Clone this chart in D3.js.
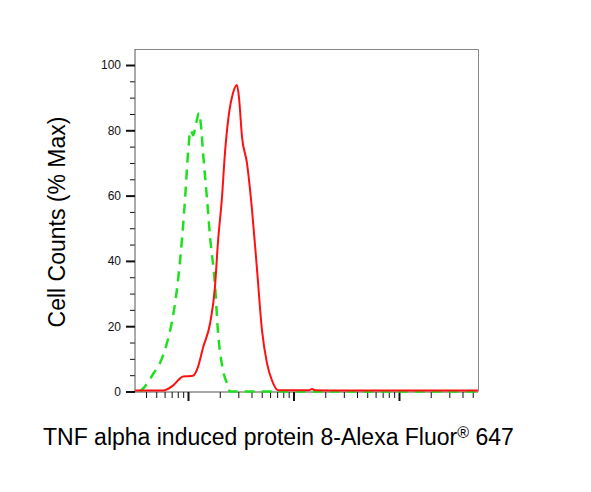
<!DOCTYPE html>
<html>
<head>
<meta charset="utf-8">
<script src="https://cdn.jsdelivr.net/npm/d3@7"></script>
<style>
  body { margin: 0; background: #fff; }
  svg { display: block; font-family: Arial, "Liberation Sans", sans-serif; }
</style>
</head>
<body>
<div class="container"></div>
<script>
// isotype control (green, dashed)
const greenX = [3.5, 3.9, 4.7, 5.4, 6.3, 7.0, 7.9, 8.8, 9.4, 10.0, 10.6, 11.2, 11.9, 12.7, 13.4, 13.9, 15.1, 16.2, 18.0, 19.2, 21.5, 23.4, 25.0, 40, 100, 300, 1000, 3000, 5600]
const greenY = [0, 1.5, 5.5, 8.6, 14.7, 20.9, 31.9, 47.2, 59.5, 73, 80, 78.5, 82, 85.3, 80, 73, 59.5, 47.2, 33, 18.7, 6.4, 2.5, 0, 0, 0, 0, 0, 0, 0]
// stained sample (red, solid)
const redX = [3.15, 5.8, 7.2, 9.0, 10.2, 11.1, 12.4, 13.9, 16.2, 18.0, 19.2, 21.0, 22.4, 24.5, 26.7, 29.1, 30.4, 32.5, 36.2, 40.4, 45.1, 50.3, 56.1, 62.5, 71.3, 86.7, 140, 150, 160, 300, 1000, 5600]
const redY = [0.3, 0.3, 1.8, 4.6, 4.7, 4.8, 7.4, 13.5, 20.9, 31.9, 45.4, 59.5, 73, 85.3, 91.4, 93.9, 90.2, 78, 70, 55.8, 37.4, 18.7, 8.6, 3.4, 0.4, 0.4, 0.4, 0.8, 0.4, 0.3, 0.3, 0.3]

const yMajor = [0, 20, 40, 60, 80, 100]
const yMinor = d3.range(5, 100, 5).filter(v => v % 20 !== 0)
const xMajor = [10, 100, 1000]

const w = 591
const h = 492
const plotLeft = 135
const plotRight = 478
const plotTop = 49
const plotBottom = 391.5

const x = d3.scaleLog().domain([3.145, 5610]).range([plotLeft, plotRight])
const y = d3.scaleLinear().domain([0, 104.9]).range([plotBottom, plotTop])

const xMinor = []
for (let e = 0; e <= 3; e++) {
    for (let m = 2; m <= 9; m++) {
        const v = m * Math.pow(10, e)
        if (v > 3.145 && v < 5610) xMinor.push(v)
    }
}

const svg = d3.select(".container")
    .append("svg")
    .attr("width", w)
    .attr("height", h)

// frame (top and right)
svg.append("path")
    .attr("d", `M${plotLeft},${plotTop + 0.5}H${plotRight + 0.5}V${plotBottom}`)
    .attr("fill", "none")
    .attr("stroke", "#888")
    .attr("stroke-width", 1)

// y axis
const yMinorAxis = d3.axisLeft(y).tickValues(yMinor).tickSize(5).tickFormat("")
const yMajorAxis = d3.axisLeft(y).tickValues(yMajor).tickSize(9).tickPadding(5)

svg.append("g")
    .attr("transform", "translate(" + plotLeft + ",0)")
    .call(yMinorAxis)
    .call(g => g.select(".domain").remove())
    .call(g => g.selectAll("line").attr("stroke", "#111"))

svg.append("g")
    .attr("transform", "translate(" + plotLeft + ",0)")
    .call(yMajorAxis)
    .call(g => g.select(".domain").attr("stroke", "#555").attr("d", `M0,${plotTop}V${plotBottom + 0.5}`))
    .call(g => g.selectAll("line").attr("stroke", "#111").attr("stroke-width", 2))
    .call(g => g.selectAll("text").attr("font-size", 12).attr("fill", "#111").attr("font-family", "Arial, 'Liberation Sans', sans-serif"))

// x axis
const xMinorAxis = d3.axisBottom(x).tickValues(xMinor).tickSize(6).tickFormat("")
const xMajorAxis = d3.axisBottom(x).tickValues(xMajor).tickSize(9).tickFormat("")

svg.append("g")
    .attr("transform", "translate(0," + (plotBottom + 0.5) + ")")
    .call(xMinorAxis)
    .call(g => g.select(".domain").attr("stroke", "#555").attr("d", `M${plotLeft},0H${plotRight}`))
    .call(g => g.selectAll("line").attr("stroke", "#111"))

svg.append("g")
    .attr("transform", "translate(0," + (plotBottom + 0.5) + ")")
    .call(xMajorAxis)
    .call(g => g.select(".domain").remove())
    .call(g => g.selectAll("line").attr("stroke", "#111").attr("stroke-width", 2))

// histograms
const line = d3.line()
    .x(d => x(d[0]))
    .y(d => y(d[1]))
    .curve(d3.curveMonotoneX)

svg.append("path")
    .datum(greenX.map((v, i) => [v, greenY[i]]))
    .attr("d", line)
    .attr("fill", "none")
    .attr("stroke", "#1fe01f")
    .attr("stroke-width", 2.5)
    .attr("stroke-dasharray", "10,7")

svg.append("path")
    .datum(redX.map((v, i) => [v, redY[i]]))
    .attr("d", line)
    .attr("fill", "none")
    .attr("stroke", "#ff1010")
    .attr("stroke-width", 2)

// axis titles
svg.append("text")
    .attr("transform", "translate(64.5," + 222 + ") rotate(-90)")
    .attr("text-anchor", "middle")
    .attr("font-size", 23)
    .attr("fill", "#000")
    .text("Cell Counts (% Max)")

const xt = svg.append("text")
    .attr("x", 43)
    .attr("y", 445)
    .attr("font-size", 23)
    .attr("fill", "#000")
xt.append("tspan").text("TNF alpha induced protein 8-Alexa Fluor")
xt.append("tspan").attr("font-size", 16).attr("dy", -7).text("®")
xt.append("tspan").attr("dy", 7).text(" 647")
</script>
</body>
</html>
